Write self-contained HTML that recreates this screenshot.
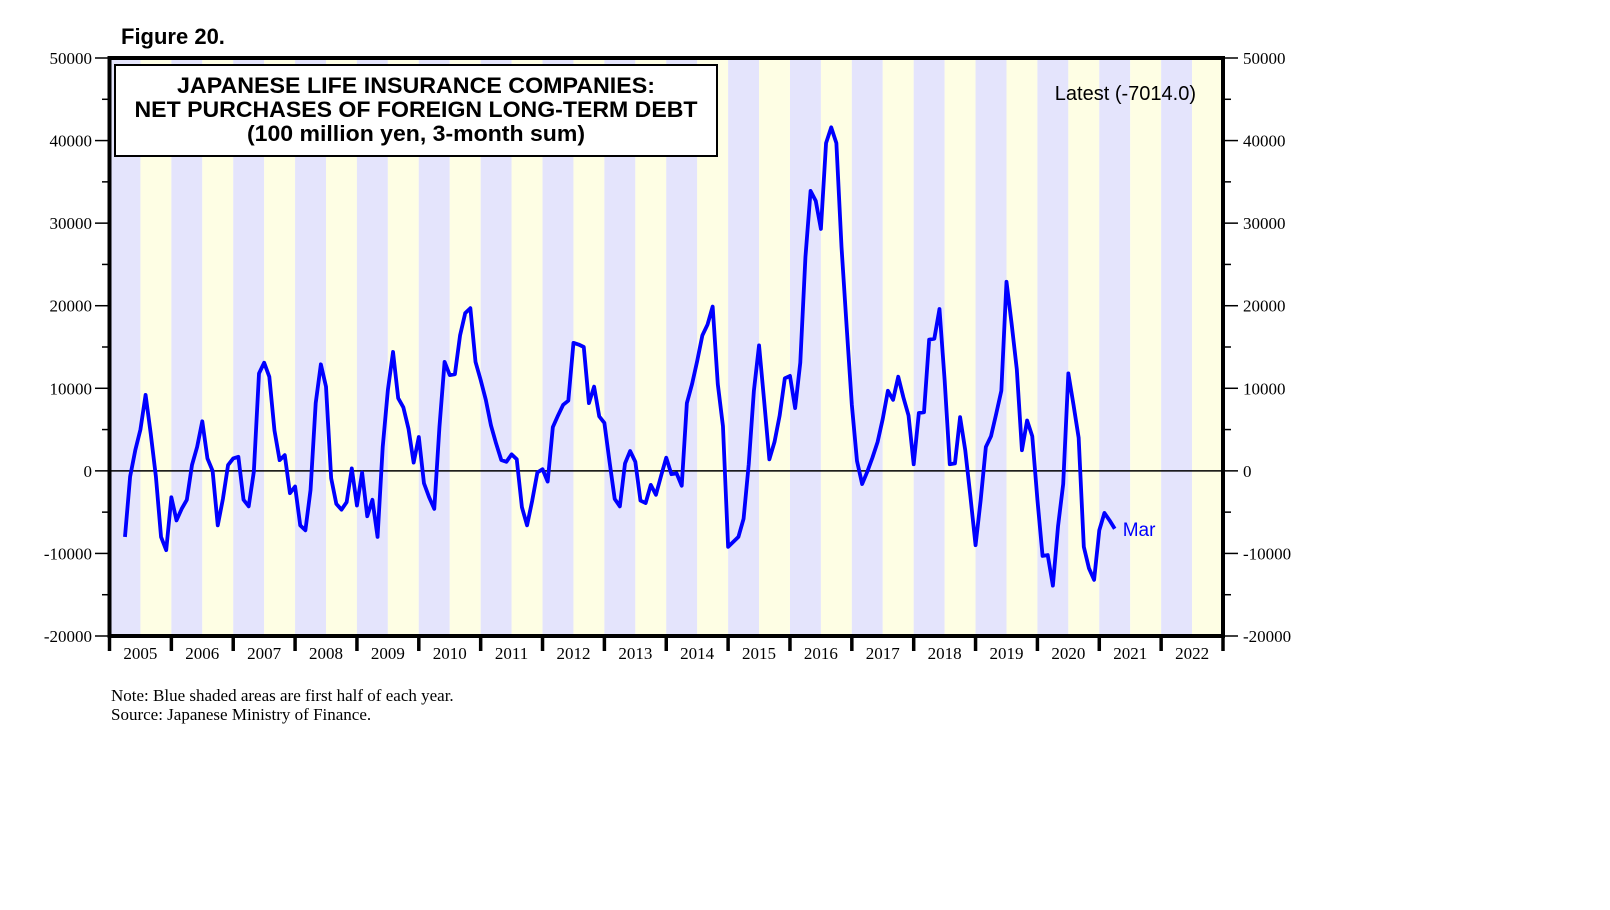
<!DOCTYPE html>
<html><head><meta charset="utf-8">
<style>
html,body{margin:0;padding:0;background:#fff;}
body{width:1610px;height:910px;overflow:hidden;position:relative;}
svg{position:absolute;left:0;top:0;}
.serif{font-family:"Liberation Serif",serif;}
.sans{font-family:"Liberation Sans",sans-serif;}
</style></head>
<body>
<svg id="chart" width="1610" height="910"></svg>
<script>
const years = [2005,2006,2007,2008,2009,2010,2011,2012,2013,2014,2015,2016,2017,2018,2019,2020,2021,2022];
const yTicks = [50000,40000,30000,20000,10000,0,-10000,-20000];
const startMonthIndex = 2; // Mar 2005
const values = [
-8000,-700,2500,5000,9200,4500,-700,-8000,-9600,-3200,
-6000,-4600,-3500,700,2900,6000,1500,0,-6600,-3400,700,1500,
1700,-3500,-4300,-100,11800,13100,11400,4900,1300,1900,-2700,-1900,
-6600,-7200,-2300,8200,12900,10200,-900,-4000,-4700,-3800,300,-4200,
-200,-5500,-3500,-8000,2900,9800,14400,8800,7700,5100,1000,4100,
-1500,-3200,-4600,5300,13200,11600,11700,16400,19100,19700,13200,11000,
8600,5500,3300,1300,1100,2000,1400,-4400,-6600,-3600,-200,200,
-1300,5300,6700,8000,8500,15500,15300,15000,8200,10200,6600,5800,
1100,-3400,-4300,900,2400,1100,-3600,-3900,-1700,-2900,-600,1600,
-400,-300,-1800,8200,10500,13300,16400,17700,19900,10500,5400,-9200,
-8600,-8000,-5800,800,9700,15200,8400,1400,3500,6700,11200,11500,
7600,13100,25900,33900,32700,29300,39700,41600,39700,27100,17400,8000,
1200,-1600,-100,1600,3500,6300,9700,8600,11400,8900,6700,800,
7000,7100,15900,16000,19600,11000,800,900,6500,2500,-3100,-9000,
-3500,2900,4200,6900,9700,22900,17800,12300,2500,6100,4200,-3500,
-10300,-10200,-13900,-6700,-1600,11800,8000,4000,-9200,-11800,-13200,-7200,
-5100,-6000,-7014
];
const latestLabel = "Latest (-7014.0)";

const L=109.5, R=1223, T=58, B=636;
const yMin=-20000, yMax=50000;
const nMonths = years.length*12;
const xM = m => L + (m+1)*(R-L)/nMonths;
const xYear = k => L + k*(R-L)/years.length;
const yV = v => B - (v-yMin)/(yMax-yMin)*(B-T);
const NS="http://www.w3.org/2000/svg";
const svg=document.getElementById('chart');
function mk(tag, attrs, parent){const e=document.createElementNS(NS,tag);for(const k in attrs)e.setAttribute(k,attrs[k]);(parent||svg).appendChild(e);return e;}

years.forEach((y,k)=>{
  const x0=xYear(k), xm=(xYear(k)+xYear(k+1))/2, x1=xYear(k+1);
  const a=mk('rect',{x:x0,y:T,width:xm-x0,height:B-T,fill:'#e4e4fc'});
  
  
  const b=mk('rect',{x:xm,y:T,width:x1-xm,height:B-T,fill:'#fefee4'});
  
  
});
const z=mk('line',{x1:L,x2:R,y1:yV(0),y2:yV(0),stroke:'#000','stroke-width':1.5});



for(let v=yMin; v<=yMax; v+=5000){
  const major = v%10000===0;
  const y=yV(v);
  const tl=mk('line',{x1:major?95:102,x2:L,y1:y,y2:y,stroke:'#000','stroke-width':1.5});
  
  
  const tr=mk('line',{x1:R,x2:major?1238:1231,y1:y,y2:y,stroke:'#000','stroke-width':1.5});
  
  
}
yTicks.forEach(v=>{
  const y=yV(v);
  const t=mk('text',{x:92,y:y+6,'text-anchor':'end','font-size':17,class:'serif',fill:'#000'});
  t.textContent=String(v);
  
  
  const t2=mk('text',{x:1243,y:y+6,'text-anchor':'start','font-size':17,class:'serif',fill:'#000'});
  t2.textContent=String(v);
  
  
});
years.forEach((y,k)=>{
  const x=xYear(k);
  const tk=mk('line',{x1:x,x2:x,y1:B,y2:651,stroke:'#000','stroke-width':3.5});
  
  
  const t=mk('text',{x:(x+xYear(k+1))/2,y:659,'text-anchor':'middle','font-size':17,class:'serif',fill:'#000'});
  t.textContent=String(y);
  
  
});
const tkE=mk('line',{x1:R,x2:R,y1:B,y2:651,stroke:'#000','stroke-width':3.5});



const pts=values.map((v,i)=>xM(startMonthIndex+i).toFixed(2)+','+yV(v).toFixed(2)).join(' ');
const line=mk('polyline',{points:pts,fill:'none',stroke:'#0000ff','stroke-width':3.8,'stroke-linejoin':'round'});


const lastI=values.length-1;
const mar=mk('text',{x:xM(startMonthIndex+lastI)+8,y:yV(values[lastI])+7,'font-size':19,class:'sans',fill:'#0000ff'});
mar.textContent='Mar';



const fr=mk('rect',{x:L,y:T,width:R-L,height:B-T,fill:'none',stroke:'#000','stroke-width':4});



const g=mk('g',{});


mk('rect',{x:115,y:65,width:602,height:91,fill:'#fff',stroke:'#000','stroke-width':2},g);
[['JAPANESE LIFE INSURANCE COMPANIES:',93,478],['NET PURCHASES OF FOREIGN LONG-TERM DEBT',117,563],['(100 million yen, 3-month sum)',141,338]].forEach(([s,y,w],i)=>{
  const t=mk('text',{x:416,y:y,'text-anchor':'middle','font-size':22,'font-weight':'bold',class:'sans',fill:'#000',textLength:w,lengthAdjust:'spacingAndGlyphs'},g);
  t.textContent=s;
  
  
});
const lt=mk('text',{x:1196,y:100,'text-anchor':'end','font-size':20,class:'sans',fill:'#000'});
lt.textContent=latestLabel;



const fig=mk('text',{x:121,y:44,'font-size':22,'font-weight':'bold',class:'sans',fill:'#000'});
fig.textContent='Figure 20.';



const n1=mk('text',{x:111,y:701,'font-size':17,class:'serif',fill:'#000'});
n1.textContent='Note: Blue shaded areas are first half of each year.';


const n2=mk('text',{x:111,y:720,'font-size':17,class:'serif',fill:'#000'});
n2.textContent='Source: Japanese Ministry of Finance.';


</script>
</body></html>
